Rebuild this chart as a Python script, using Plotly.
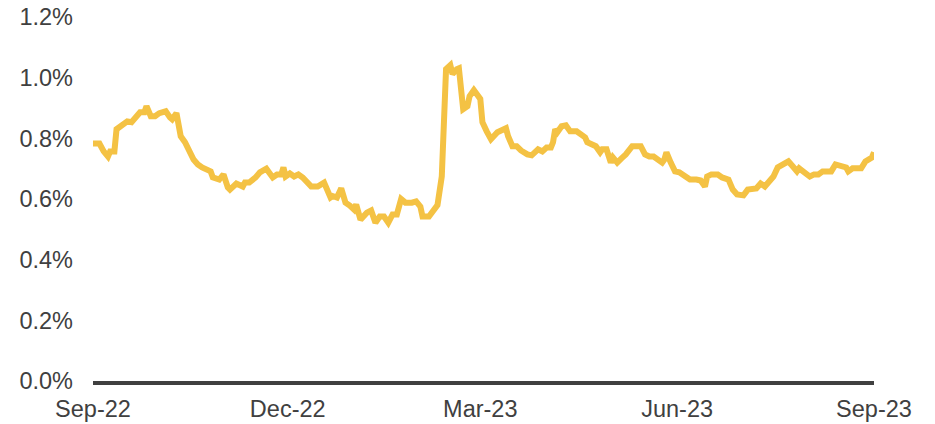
import plotly.graph_objects as go

dates = [
    "2022-09-01", "2022-09-04", "2022-09-06", "2022-09-08", "2022-09-09", "2022-09-11", "2022-09-12", "2022-09-14",
    "2022-09-17", "2022-09-19", "2022-09-21", "2022-09-23", "2022-09-25", "2022-09-26", "2022-09-28", "2022-09-30",
    "2022-10-02", "2022-10-05", "2022-10-07", "2022-10-08", "2022-10-10", "2022-10-12", "2022-10-14", "2022-10-16",
    "2022-10-18", "2022-10-20", "2022-10-22", "2022-10-26", "2022-10-27", "2022-10-30", "2022-11-01", "2022-11-03",
    "2022-11-04", "2022-11-07", "2022-11-10", "2022-11-11", "2022-11-13", "2022-11-16", "2022-11-18", "2022-11-21",
    "2022-11-24", "2022-11-26", "2022-11-28", "2022-11-29", "2022-11-30", "2022-12-02", "2022-12-04", "2022-12-06",
    "2022-12-08", "2022-12-12", "2022-12-15", "2022-12-18", "2022-12-21", "2022-12-22", "2022-12-24", "2022-12-26",
    "2022-12-28", "2022-12-30", "2023-01-01", "2023-01-02", "2023-01-04", "2023-01-07", "2023-01-09", "2023-01-11",
    "2023-01-13", "2023-01-15", "2023-01-17", "2023-01-19", "2023-01-21", "2023-01-23", "2023-01-25", "2023-01-28",
    "2023-01-30", "2023-02-01", "2023-02-02", "2023-02-05", "2023-02-07", "2023-02-09", "2023-02-11", "2023-02-12",
    "2023-02-13", "2023-02-15", "2023-02-16", "2023-02-18", "2023-02-19", "2023-02-21", "2023-02-23", "2023-02-24",
    "2023-02-26", "2023-03-01", "2023-03-02", "2023-03-04", "2023-03-06", "2023-03-09", "2023-03-11", "2023-03-13",
    "2023-03-14", "2023-03-16", "2023-03-18", "2023-03-20", "2023-03-23", "2023-03-25", "2023-03-28", "2023-03-30",
    "2023-04-01", "2023-04-03", "2023-04-04", "2023-04-05", "2023-04-06", "2023-04-08", "2023-04-10", "2023-04-12",
    "2023-04-15", "2023-04-17", "2023-04-19", "2023-04-20", "2023-04-22", "2023-04-24", "2023-04-26", "2023-04-27",
    "2023-04-29", "2023-05-01", "2023-05-02", "2023-05-04", "2023-05-06", "2023-05-08", "2023-05-11", "2023-05-13",
    "2023-05-15", "2023-05-17", "2023-05-19", "2023-05-21", "2023-05-23", "2023-05-25", "2023-05-26", "2023-05-27",
    "2023-05-29", "2023-05-31", "2023-06-02", "2023-06-04", "2023-06-07", "2023-06-10", "2023-06-12", "2023-06-14",
    "2023-06-15", "2023-06-17", "2023-06-20", "2023-06-22", "2023-06-25", "2023-06-27", "2023-06-29", "2023-07-02",
    "2023-07-04", "2023-07-08", "2023-07-10", "2023-07-12", "2023-07-14", "2023-07-16", "2023-07-18", "2023-07-20",
    "2023-07-23", "2023-07-25", "2023-07-27", "2023-07-28", "2023-07-30", "2023-08-02", "2023-08-04", "2023-08-06",
    "2023-08-08", "2023-08-12", "2023-08-14", "2023-08-16", "2023-08-19", "2023-08-20", "2023-08-22", "2023-08-26",
    "2023-08-28", "2023-08-31", "2023-09-01",
]

values = [
    0.783, 0.783, 0.757, 0.740, 0.757, 0.757, 0.830, 0.840,
    0.856, 0.853, 0.873, 0.886, 0.886, 0.906, 0.873, 0.873,
    0.883, 0.889, 0.869, 0.863, 0.883, 0.807, 0.787, 0.754,
    0.730, 0.714, 0.704, 0.691, 0.671, 0.664, 0.681, 0.638,
    0.631, 0.651, 0.641, 0.654, 0.654, 0.671, 0.688, 0.700,
    0.671, 0.681, 0.681, 0.704, 0.674, 0.684, 0.674, 0.681,
    0.671, 0.641, 0.641, 0.654, 0.605, 0.610, 0.605, 0.635,
    0.588, 0.578, 0.565, 0.582, 0.532, 0.555, 0.562, 0.522,
    0.542, 0.542, 0.522, 0.549, 0.549, 0.600, 0.588, 0.588,
    0.592, 0.575, 0.542, 0.542, 0.565, 0.580, 0.674, 0.807,
    1.028, 1.041, 1.012, 1.028, 1.031, 0.896, 0.906, 0.939,
    0.959, 0.930, 0.853, 0.823, 0.797, 0.820, 0.826, 0.833,
    0.807, 0.774, 0.774, 0.760, 0.747, 0.744, 0.764, 0.757,
    0.770, 0.770, 0.787, 0.830, 0.820, 0.840, 0.843, 0.823,
    0.823, 0.813, 0.803, 0.787, 0.780, 0.774, 0.754, 0.764,
    0.764, 0.720, 0.737, 0.720, 0.734, 0.747, 0.774, 0.774,
    0.774, 0.747, 0.740, 0.740, 0.730, 0.720, 0.730, 0.754,
    0.720, 0.691, 0.688, 0.678, 0.664, 0.664, 0.661, 0.641,
    0.674, 0.681, 0.681, 0.671, 0.664, 0.631, 0.615, 0.612,
    0.631, 0.635, 0.651, 0.641, 0.658, 0.674, 0.704, 0.714,
    0.724, 0.708, 0.691, 0.701, 0.691, 0.674, 0.681, 0.681,
    0.691, 0.691, 0.714, 0.708, 0.704, 0.691, 0.701, 0.701,
    0.724, 0.737, 0.754,
]

x_ticks = ["2022-09-01", "2022-12-01", "2023-03-01", "2023-06-01", "2023-09-01"]
x_tick_labels = ["Sep-22", "Dec-22", "Mar-23", "Jun-23", "Sep-23"]
y_ticks = [0.0, 0.2, 0.4, 0.6, 0.8, 1.0, 1.2]
y_tick_labels = ["0.0%", "0.2%", "0.4%", "0.6%", "0.8%", "1.0%", "1.2%"]

LINE_COLOR = "#F4C244"
TEXT_COLOR = "#404040"

fig = go.Figure()
fig.add_trace(go.Scatter(
    x=dates, y=values, mode="lines",
    line=dict(color=LINE_COLOR, width=6, shape="linear"),
    hoverinfo="x+y", showlegend=False,
))

fig.update_layout(
    width=935, height=424,
    margin=dict(l=93, r=61, t=17, b=43),
    paper_bgcolor="white", plot_bgcolor="white",
    font=dict(family="Liberation Sans, Arial, sans-serif", size=23.5, color=TEXT_COLOR),
    xaxis=dict(
        type="date",
        range=["2022-09-01", "2023-09-01"],
        tickvals=x_ticks, ticktext=x_tick_labels,
        showgrid=False, zeroline=False,
        showline=True, linecolor="#404040", linewidth=4,
        ticks="", ticklabelstandoff=4, automargin=False,
        ticklabeloverflow="allow",
    ),
    yaxis=dict(
        range=[0, 1.2],
        tickvals=y_ticks, ticktext=y_tick_labels,
        showgrid=False, zeroline=False, showline=False,
        ticks="", ticklabelstandoff=19, automargin=False,
        ticklabeloverflow="allow",
    ),
)

# remove the browser's default 8px body margin so the 935x424 figure fills the window
fig.write_html(
    "out.html",
    config={"displayModeBar": False},
    post_script="document.body.style.margin='0';document.body.style.overflow='hidden';",
)
